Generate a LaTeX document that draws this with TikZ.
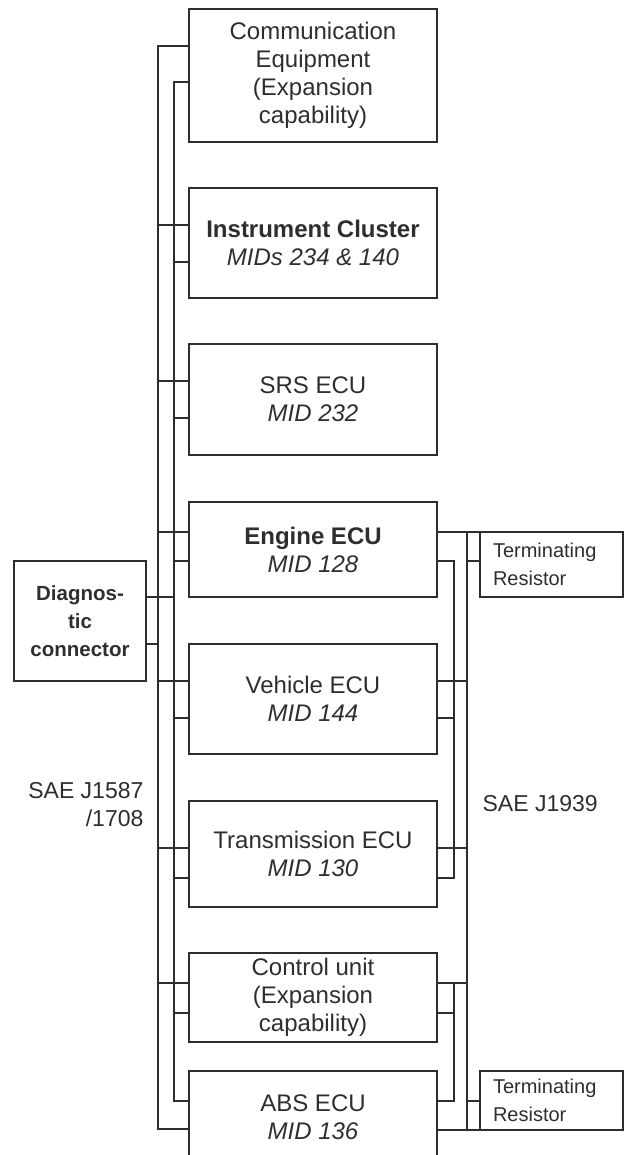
\documentclass[tikz,border=0pt]{standalone}
\usepackage{fontspec}
\setmainfont{Liberation Sans}
\usetikzlibrary{positioning}
\definecolor{ink}{HTML}{2E2E2E}

\begin{document}
\begin{tikzpicture}[x=1pt, y=-1pt, line width=1.2pt, color=ink,
    ecu/.style={draw, rectangle, minimum width=248pt, inner sep=0pt, outer sep=0pt, align=center, font=\fontsize{24}{28}\selectfont},
    term/.style={draw, rectangle, text width=117pt, inner xsep=13pt, inner ysep=0pt, outer sep=0pt, minimum height=#1, align=left, font=\fontsize{20}{28}\selectfont},
    bus label/.style={inner sep=0pt, font=\fontsize{23}{28}\selectfont}]
            \useasboundingbox (0,0) rectangle (628,1155);
            \clip (0,0) rectangle (628,1155);
            % 节点
            \node[ecu, minimum height=133pt] (comm) at (313,75.5) {Communication\\Equipment\\(Expansion\\capability)};
            \node[ecu, minimum height=110pt, below=46pt of comm] (cluster) {\textbf{Instrument Cluster}\\\textit{MIDs 234 \& 140}};
            \node[ecu, minimum height=111pt, below=46pt of cluster] (srs) {SRS ECU\\\textit{MID 232}};
            \node[ecu, minimum height=95pt, below=47pt of srs] (engine) {\textbf{Engine ECU}\\\textit{MID 128}};
            \node[ecu, minimum height=110pt, below=47pt of engine] (vehicle) {Vehicle ECU\\\textit{MID 144}};
            \node[ecu, minimum height=106pt, below=47pt of vehicle] (trans) {Transmission ECU\\\textit{MID 130}};
            \node[ecu, minimum height=89pt, below=46pt of trans] (ctrl) {Control unit\\(Expansion\\capability)};
            \node[ecu, minimum height=92pt, below=29pt of ctrl] (abs) {ABS ECU\\\textit{MID 136}};
            \node[draw, rectangle, outer sep=0pt, minimum width=132pt, minimum height=120pt, align=center,
                font=\bfseries\fontsize{20.5}{28}\selectfont] (diag) at (80,621) {Diagnos-\\tic\\connector};
            \node[term=65pt] (term1) at (551.5,564.5) {Terminating\\Resistor};
            \node[term=59pt] (term2) at (551.5,1100.5) {Terminating\\Resistor};
            % 总线
            \coordinate (lo) at (158,0);
            \coordinate (li) at (174,0);
            \coordinate (ri) at (454,0);
            \coordinate (ro) at (467,0);
            % 连接
            \draw (comm.west |- 0,46) -| (lo |- 0,1129) -- (abs.west |- 0,1129);
            \draw (comm.west |- 0,82) -| (li |- 0,1101) -- (abs.west |- 0,1101);
            \foreach \n/\y in {cluster/225, srs/381, engine/532, vehicle/681, trans/848, ctrl/983}
                \draw (lo |- 0,\y) -- (\n.west |- 0,\y);
            \foreach \n/\y in {cluster/262, srs/418, engine/561, vehicle/718, trans/878, ctrl/1013}
                \draw (li |- 0,\y) -- (\n.west |- 0,\y);
            \draw (diag.east |- 0,597) -- (li |- 0,597);
            \draw (diag.east |- 0,644) -- (lo |- 0,644);
            \draw (engine.east |- term1.north) -- (term1.north west);
            \draw (ro |- term1.north) -- (ro |- term2.south);
            \draw (abs.east |- term2.south) -- (term2.south west);
            \draw (ro |- 0,561) -- (term1.west |- 0,561);
            \draw (ro |- 0,1101) -- (term2.west |- 0,1101);
            \draw (engine.east |- 0,561) -| (ri |- 0,878) -- (trans.east |- 0,878);
            \foreach \n/\y in {vehicle/681, trans/848, ctrl/983}
                \draw (\n.east |- 0,\y) -- (ro |- 0,\y);
            \draw (vehicle.east |- 0,718) -- (ri |- 0,718);
            \draw (ri |- 0,983) -- (ri |- 0,1101) -- (abs.east |- 0,1101);
            \draw (ctrl.east |- 0,1013) -- (ri |- 0,1013);
            % 标注
            \node[bus label, anchor=north east, align=right] (j1587) at (144,782) {SAE J1587\\/1708};
            \node[bus label, anchor=base west] (j1939) at (482,811) {SAE J1939};
        \end{tikzpicture}
\end{document}
